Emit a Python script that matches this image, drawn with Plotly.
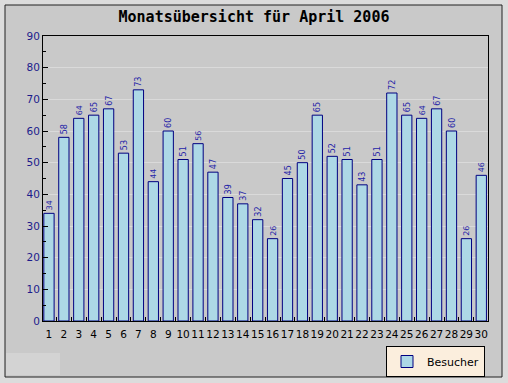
import plotly.graph_objects as go

days = list(range(1, 31))
besucher = [34, 58, 64, 65, 67, 53, 73, 44, 60, 51, 56, 47, 39, 37, 32,
            26, 45, 50, 65, 52, 51, 43, 51, 72, 65, 64, 67, 60, 26, 46]
y_ticks = list(range(0, 100, 10))
title_text = "Monatsübersicht für April 2006"
series_name = "Besucher"

W, H = 508, 383
L, R, T, B = 43, 488, 36, 321


def px(x):
    return (x - L) / (R - L)


def py(y):
    return (B - y) / (B - T)


fig = go.Figure()
fig.add_trace(go.Bar(
    x=days, y=besucher, name=series_name,
    marker=dict(color="#add8e6", line=dict(color="#000080", width=1)),
    text=[str(v) for v in besucher], textposition="outside", textangle=-90,
    textfont=dict(family="DejaVu Sans", size=10.5, color="#2424a8"),
    cliponaxis=False, showlegend=True,
))

fig.update_layout(
    width=W, height=H,
    margin=dict(l=L, r=W - R, t=T, b=H - B, autoexpand=False),
    paper_bgcolor="#dcdcdc",
    plot_bgcolor="#c9c9c9",
    bargap=0.31,
    title=dict(text=title_text, x=0.5, xanchor="center", y=1 - 17 / H, yanchor="middle",
               font=dict(family="DejaVu Sans Mono", size=15, color="#000000", weight="bold")),
    xaxis=dict(range=[0.6, 30.45], tickmode="array", tickvals=days, ticktext=[str(d) for d in days],
               tickangle=0, ticks="", showgrid=False, zeroline=False, ticklabelstandoff=3,
               showline=True, linecolor="#000000", linewidth=1, mirror=True,
               tickfont=dict(family="DejaVu Sans", size=10.5, color="#000000"),
               minor=dict(tick0=0.5, dtick=1, ticks="inside", ticklen=4, tickcolor="#000000", showgrid=False)),
    yaxis=dict(range=[0, 90], tickmode="array", tickvals=y_ticks,
               ticks="inside", ticklen=5, tickcolor="#000000",
               showgrid=True, gridcolor="rgba(225,225,225,0.7)", gridwidth=1, zeroline=False,
               showline=True, linecolor="#000000", linewidth=1, mirror=True,
               tickfont=dict(family="DejaVu Sans", size=10.5, color="#1c1c8c"),
               minor=dict(tick0=0, dtick=5, ticks="inside", ticklen=3, tickcolor="#000000", showgrid=False)),
    legend=dict(x=px(386), y=py(346), xanchor="left", yanchor="top",
                bgcolor="#fbeedd", bordercolor="#000000", borderwidth=1,
                font=dict(family="DejaVu Sans", size=11, color="#000000"),
                itemwidth=30),
    showlegend=True,
    shapes=[
        dict(type="rect", xref="paper", yref="paper", x0=px(5), x1=px(502), y0=py(377), y1=py(5),
             fillcolor="#c9c9c9", line=dict(color="#222222", width=1), layer="below"),
        dict(type="rect", xref="paper", yref="paper", x0=px(6), x1=px(60), y0=py(375), y1=py(353),
             fillcolor="#d3d3d3", line=dict(width=0), layer="below"),
    ],
)

fig.write_html("out.html", config={"displayModeBar": False},
               post_script="document.body.style.margin='0';document.body.style.overflow='hidden';")
